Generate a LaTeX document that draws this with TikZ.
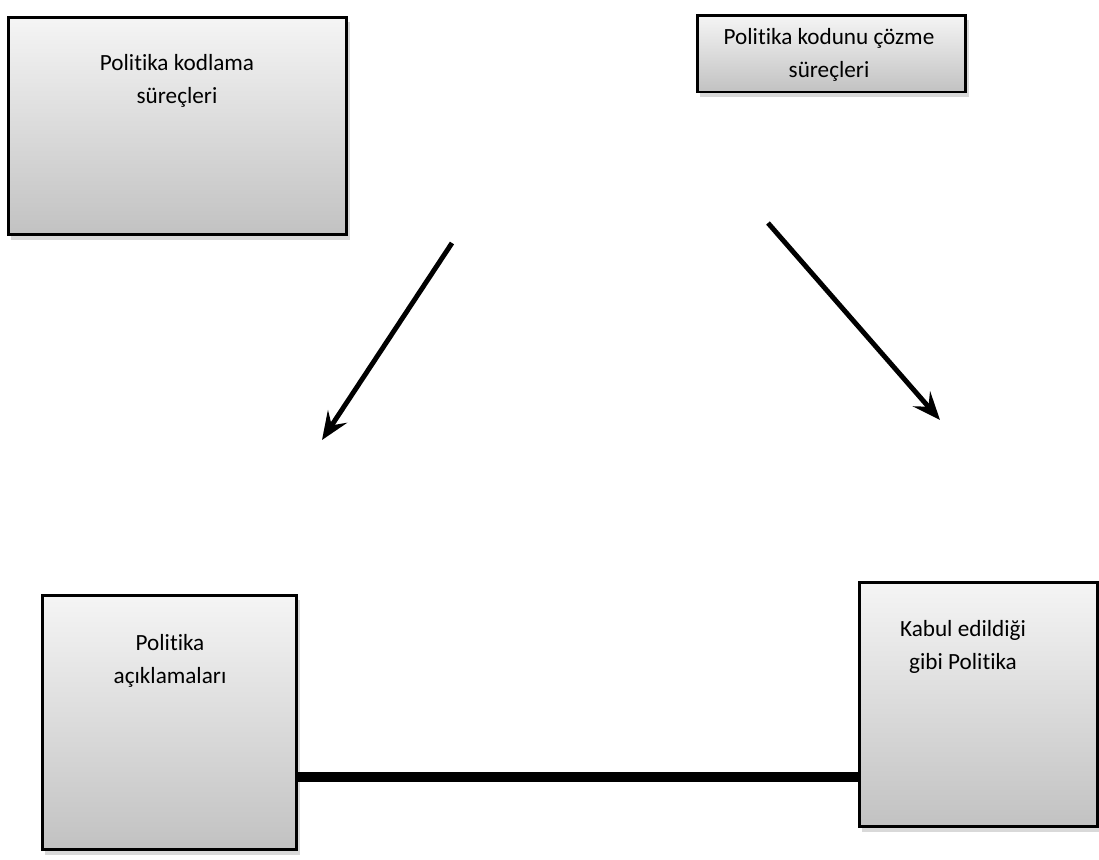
\documentclass[tikz,border=0pt]{standalone}
\usepackage{fontspec}
\setmainfont{Carlito}[Ligatures=CommonOff]
\usetikzlibrary{positioning,arrows.meta,shadows,calc}

\tikzset{
  box/.style={draw, line width=1.7pt, rectangle, inner sep=0pt,
    top color=gray!8, bottom color=gray!48,
    drop shadow={opacity=0.3, shadow xshift=1.5pt, shadow yshift=-3pt}},
  boxtext/.style={align=center, font=\fontsize{13.2}{19}\selectfont},
  flow/.style={line width=2.8pt, -{Stealth[length=16pt,width=13pt,inset=6pt]}},
  link/.style={line width=6.2pt}
}

\begin{document}
\begin{tikzpicture}[x=0.02cm, y=-0.02cm]

    \useasboundingbox (0,0) rectangle (1099,859);

    % the four boxes
    \node[box, minimum width=6.78cm, minimum height=4.36cm] (enc) at (177.5,126) {};
    \node[box, minimum width=5.38cm, minimum height=1.54cm] (dec) at (831.5,53.5) {};
    \node[box, minimum width=5.1cm, minimum height=5.1cm] (stat) at (169.5,722.5) {};
    \node[box, minimum width=4.78cm, minimum height=4.9cm] (enact) at (978.5,704.5) {};

    % texts
    \node[boxtext] (enctext) at (177,81) {Politika kodlama\\süreçleri};
    \node[boxtext] (dectext) at (829,55) {Politika kodunu çözme\\süreçleri};
    \node[boxtext] (stattext) at (170,661) {Politika\\açıklamaları};
    \node[boxtext] (enacttext) at (963,647) {Kabul edildiği\\gibi Politika};

    % arrows
    \coordinate (encfrom) at (452,243);
    \coordinate (encto) at (322,440);
    \coordinate (decfrom) at (768,223);
    \coordinate (decto) at (940,420);
    \draw[flow] (encfrom) -- (encto);
    \draw[flow] (decfrom) -- (decto);

    % bottom link
    \coordinate (mid) at (578,777);
    \draw[link] (stat.east |- mid) -- (enact.west |- mid);

\end{tikzpicture}
\end{document}
